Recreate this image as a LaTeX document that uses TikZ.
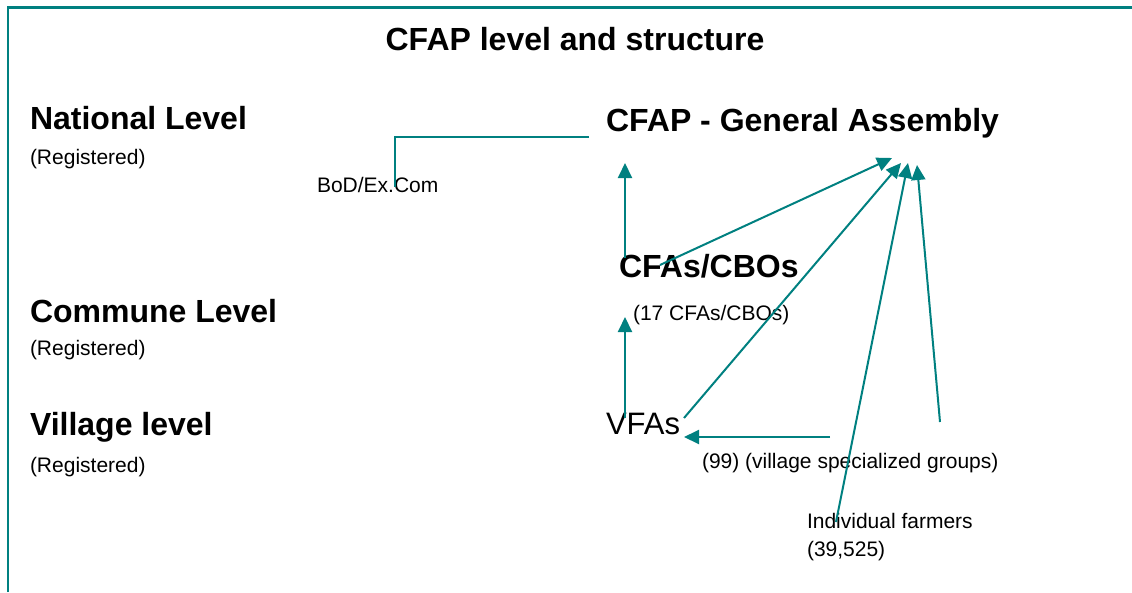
\documentclass[tikz,border=0pt]{standalone}
\usepackage{fontspec}
\setmainfont{Liberation Sans}
\usetikzlibrary{arrows.meta}
\definecolor{tealc}{RGB}{0,128,128}
\begin{document}
\begin{tikzpicture}[x=1pt,y=-1pt,
  txt/.style={anchor=base west,inner sep=0pt,outer sep=0pt},
  big/.style={txt,font=\fontsize{32}{38}\selectfont\bfseries},
  bigreg/.style={txt,font=\fontsize{31}{37}\selectfont},
  small/.style={txt,font=\fontsize{21}{25}\selectfont},
  conn/.style={draw=tealc,line width=2pt},
  arr/.style={conn,-{Triangle[length=15pt,width=14pt]}}]
\useasboundingbox (0,0) rectangle (1132,592);
% frame
\draw[tealc,line width=2.5pt] (8,592) -- (8,7.5) -- (1132,7.5);
% title
\node[txt,font=\fontsize{32}{38}\selectfont\bfseries,anchor=base] (title) at (575,50) {CFAP level and structure};
% levels
\node[big] (nat) at (30,129) {National Level};
\node[small] (natr) at (30,164) {(Registered)};
\node[big] (com) at (30,322) {Commune Level};
\node[small] (comr) at (30,355) {(Registered)};
\node[big] (vil) at (30,435) {Village level};
\node[small] (vilr) at (30,472) {(Registered)};
% right column
\node[big] (ga) at (606,131) {CFAP - General Assembly};
\node[small] (bod) at (317,192) {BoD/Ex.Com};
\node[big] (cfa) at (619,277) {CFAs/CBOs};
\node[small] (cfan) at (633,320) {(17 CFAs/CBOs)};
\node[bigreg] (vfa) at (606,434) {VFAs};
\node[small] (vsg) at (702,468) {(99) (village specialized groups)};
\node[small] (ind) at (807,528) {Individual farmers};
\node[small] (indn) at (807,556) {(39,525)};
% coordinates
\coordinate (gaL) at (589,137);
\coordinate (elb) at (395,137);
\coordinate (bodT) at (395,187);
\coordinate (up1s) at (625,258);
\coordinate (up1e) at (625,163);
\coordinate (up2s) at (625,418);
\coordinate (up2e) at (625,317);
\coordinate (cfaR) at (660,265);
\coordinate (t1) at (892,158);
\coordinate (vfaR) at (684,418);
\coordinate (t2) at (901,163);
\coordinate (indT) at (836,522);
\coordinate (t3) at (908,163);
\coordinate (vsgT) at (940,422);
\coordinate (t4) at (917,165);
\coordinate (hs) at (830,437);
\coordinate (he) at (684,437);
% connectors
\draw[conn] (gaL) -- (elb) -- (bodT);
\draw[arr] (up1s) -- (up1e);
\draw[arr] (up2s) -- (up2e);
\draw[arr] (cfaR) -- (t1);
\draw[arr] (vfaR) -- (t2);
\draw[arr] (indT) -- (t3);
\draw[arr] (vsgT) -- (t4);
\draw[arr] (hs) -- (he);
\end{tikzpicture}
\end{document}
